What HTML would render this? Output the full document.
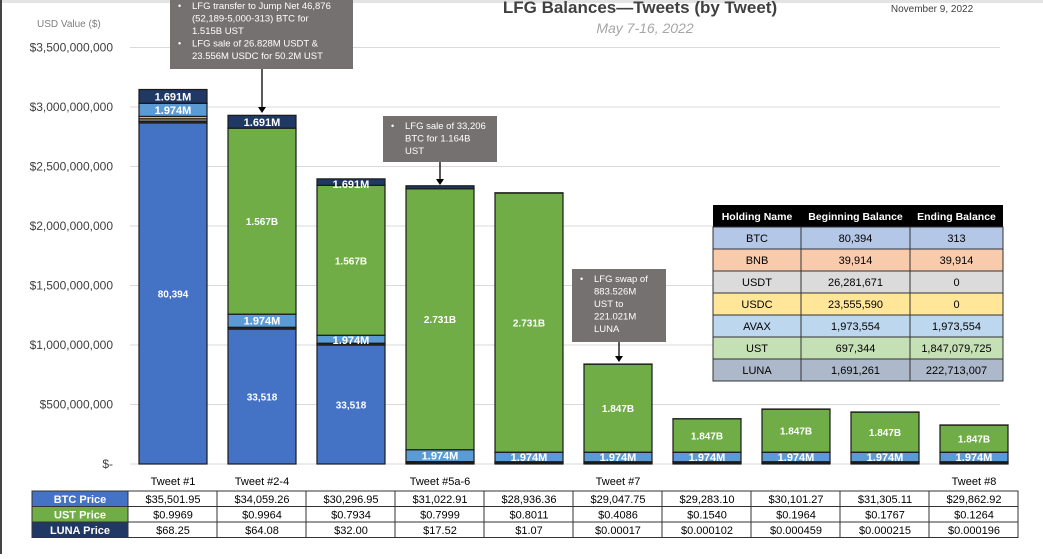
<!DOCTYPE html>
<html><head><meta charset="utf-8"><style>
body{margin:0;width:1043px;height:554px;overflow:hidden;background:#fff;font-family:"Liberation Sans",sans-serif;}
svg text{font-family:"Liberation Sans",sans-serif;}
</style></head><body>
<svg id="c" width="1043" height="554">
<rect x="0" y="0" width="1043" height="554" fill="#fff"/>
<rect x="0" y="0" width="1043" height="3" fill="#e4e4e4"/>
<rect x="0" y="0" width="2" height="554" fill="#444"/>
<text x="640" y="13" text-anchor="middle" font-size="17" font-weight="bold" fill="#404040">LFG Balances—Tweets (by Tweet)</text>
<text x="645" y="33" text-anchor="middle" font-size="14" font-style="italic" fill="#a6a6a6">May 7-16, 2022</text>
<text x="932" y="12" text-anchor="middle" font-size="10" fill="#404040">November 9, 2022</text>
<text x="37" y="27" font-size="10" fill="#7f7f7f">USD Value ($)</text>
<g id="grid"></g><g id="bars"></g><g id="ann"></g><g id="tbl"></g>
</svg>
<script>
const ns="http://www.w3.org/2000/svg";
const tweets=["Tweet #1","Tweet #2-4","","Tweet #5a-6","","Tweet #7","","","","Tweet #8"];
const yTicks=[0,500,1000,1500,2000,2500,3000,3500];
const yTickLabels=["$-","$500,000,000","$1,000,000,000","$1,500,000,000","$2,000,000,000","$2,500,000,000","$3,000,000,000","$3,500,000,000"];
// segment values in $M
const btcVal=[2866,1134,1000,10,9,9,9,9,9,9];
const bnbVal=[15,15,15,10,10,10,10,10,10,10];
const usdtVal=[20,0,0,0,0,0,0,0,0,0];
const usdcVal=[20,0,0,0,0,0,0,0,0,0];
const avaxVal=[110,110,67,100,80,80,80,80,80,80];
const ustVal=[1,1563,1260,2193,2178,740,280,362,337,228];
const lunaVal=[115,108,54,25,2,1,1,1,1,1];
const btcLbl=["80,394","33,518","33,518","","","","","","",""];
const ustLbl=["","1.567B","1.567B","2.731B","2.731B","1.847B","1.847B","1.847B","1.847B","1.847B"];
const avaxLbl=["1.974M","1.974M","1.974M","1.974M","1.974M","1.974M","1.974M","1.974M","1.974M","1.974M"];
const lunaLbl=["1.691M","1.691M","1.691M","","","","","","",""];
const btcPrice=["$35,501.95","$34,059.26","$30,296.95","$31,022.91","$28,936.36","$29,047.75","$29,283.10","$30,101.27","$31,305.11","$29,862.92"];
const ustPrice=["$0.9969","$0.9964","$0.7934","$0.7999","$0.8011","$0.4086","$0.1540","$0.1964","$0.1767","$0.1264"];
const lunaPrice=["$68.25","$64.08","$32.00","$17.52","$1.07","$0.00017","$0.000102","$0.000459","$0.000215","$0.000196"];

const y=v=>464-v*0.119;
const xc=i=>173+i*89;
const bw=68;
function el(tag,attrs,parent){const e=document.createElementNS(ns,tag);for(const k in attrs)e.setAttribute(k,attrs[k]);parent.appendChild(e);return e;}
const grid=document.getElementById('grid'),bars=document.getElementById('bars'),ann=document.getElementById('ann'),tbl=document.getElementById('tbl');
yTicks.forEach((t,i)=>{
  const l=el('line',{x1:130,x2:1000,y1:y(t),y2:y(t),stroke:'#d9d9d9','stroke-width':1},grid);
  
  
  const tx=el('text',{x:113,y:y(t)+4,'text-anchor':'end','font-size':12,fill:'#404040'},grid);
  tx.textContent=yTickLabels[i];
  
  
});
const series=[[btcVal,'#4472C4','btc',btcLbl],[bnbVal,'#3a2a1a','bnb',null],[usdtVal,'#a5a5a5','usdt',null],[usdcVal,'#ffc000','usdc',null],[avaxVal,'#5b9bd5','avax',avaxLbl],[ustVal,'#70ad47','ust',ustLbl],[lunaVal,'#203864','luna',lunaLbl]];
for(let i=0;i<10;i++){
  let acc=0;
  series.forEach(([vals,col,nm,lbls])=>{
    const v=vals[i];if(v<=0)return;
    const y0=y(acc),y1=y(acc+v);acc+=v;
    const r=el('rect',{x:xc(i)-bw/2,y:y1,width:bw,height:y0-y1,fill:col,stroke:'#1a1a1a','stroke-width':1.2},bars);
    
    
    if(lbls&&lbls[i]){
      const t=el('text',{x:xc(i),y:(y0+y1)/2+4,'text-anchor':'middle','font-size':nm==='avax'||nm==='luna'?11:10,'font-weight':'bold',fill:'#fff'},bars);
      if((nm==='avax'||nm==='luna')&&y0-y1<10) t.setAttribute('y',y1+9);
      t.textContent=lbls[i];
      
      
    }
  });
}
// annotations
const notes=[{x:170,y:-2,w:183,h:71,ax:262,ay:113,lines:[["•","LFG transfer to Jump Net 46,876"],["","(52,189-5,000-313) BTC for"],["","1.515B UST"],["•","LFG sale of 26.828M USDT &"],["","23.556M USDC for 50.2M UST"]]},
{x:383,y:116,w:114,h:46,ax:440,ay:185,lines:[["•","LFG sale of 33,206"],["","BTC for 1.164B"],["","UST"]]},
{x:572,y:269,w:94,h:73,ax:619,ay:362,lines:[["•","LFG swap of"],["","883.526M"],["","UST to"],["","221.021M"],["","LUNA"]]}];
notes.forEach((n,k)=>{
  const g=el('g',{},ann);
  
  
  el('rect',{x:n.x,y:n.y,width:n.w,height:n.h,fill:'#767171'},g);
  el('line',{x1:n.ax,x2:n.ax,y1:n.y+n.h,y2:n.ay-5,stroke:'#000','stroke-width':1.3},g);
  el('path',{d:`M${n.ax-4},${n.ay-6}L${n.ax+4},${n.ay-6}L${n.ax},${n.ay}Z`,fill:'#000'},g);
  n.lines.forEach((ln,j)=>{
    const ty=n.y+(k===0?11:13)+j*12.5;
    if(ln[0]){const b=el('text',{x:n.x+8,y:ty,'font-size':9,fill:'#fff'},g);b.textContent=ln[0];}
    const t=el('text',{x:n.x+22,y:ty,'font-size':9.5,fill:'#fff'},g);t.textContent=ln[1];
  });
});
// holdings table
const hNames=["BTC","BNB","USDT","USDC","AVAX","UST","LUNA"];
const hBegin=["80,394","39,914","26,281,671","23,555,590","1,973,554","697,344","1,691,261"];
const hEnd=["313","39,914","0","0","1,973,554","1,847,079,725","222,713,007"];
const hCol=["#b4c7e7","#f8cbad","#dbdbdb","#ffe699","#bdd7ee","#c5e0b4","#adb9ca"];
const hx=[713,801,910,1003],hy0=205,hh=22;
const ht=el('g',{},tbl);


el('rect',{x:713,y:hy0,width:290,height:22,fill:'#000'},ht);
["Holding Name","Beginning Balance","Ending Balance"].forEach((h,c)=>{const t=el('text',{x:(hx[c]+hx[c+1])/2,y:hy0+15,'text-anchor':'middle','font-size':10.5,'font-weight':'bold',fill:'#fff'},ht);t.textContent=h;});
hNames.forEach((nm,r)=>{
  const ry=hy0+22+r*hh;
  el('rect',{x:713,y:ry,width:290,height:hh,fill:hCol[r],stroke:'#333','stroke-width':1},ht);
  [nm,hBegin[r],hEnd[r]].forEach((v,c)=>{
    if(c>0)el('line',{x1:hx[c],x2:hx[c],y1:ry,y2:ry+hh,stroke:'#333'},ht);
    const t=el('text',{x:(hx[c]+hx[c+1])/2,y:ry+15,'text-anchor':'middle','font-size':11,fill:'#000'},ht);t.textContent=v;
  });
});
// price table
const pt=el('g',{},tbl);


tweets.forEach((t,i)=>{if(!t)return;const e=el('text',{x:xc(i),y:485,'text-anchor':'middle','font-size':11,fill:'#000'},pt);e.textContent=t;});
const rows=[["BTC Price","#4472C4",btcPrice],["UST Price","#70ad47",ustPrice],["LUNA Price","#203864",lunaPrice]];
rows.forEach(([lab,col,vals],r)=>{
  const ry=491+r*15.5;
  el('rect',{x:32,y:ry,width:96,height:15.5,fill:col,stroke:'#333'},pt);
  const lt=el('text',{x:80,y:ry+12,'text-anchor':'middle','font-size':11,'font-weight':'bold',fill:'#fff'},pt);lt.textContent=lab;
  vals.forEach((v,i)=>{
    el('rect',{x:128+i*89,y:ry,width:89,height:15.5,fill:'#fff',stroke:'#333'},pt);
    const t=el('text',{x:xc(i),y:ry+12,'text-anchor':'middle','font-size':11,fill:'#000'},pt);t.textContent=v;
  });
});
</script>
</body></html>
